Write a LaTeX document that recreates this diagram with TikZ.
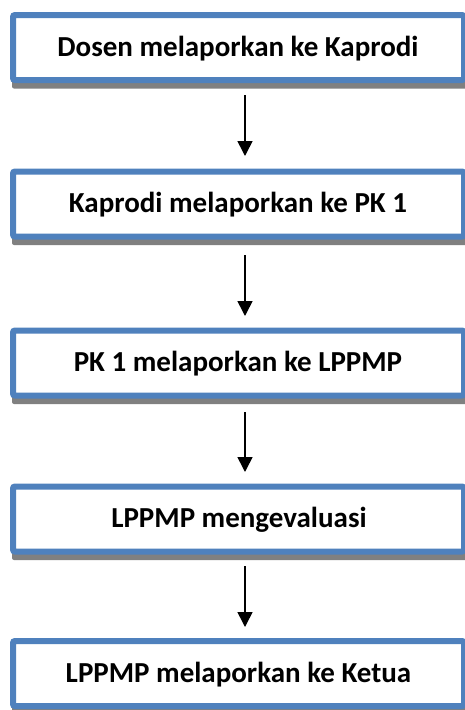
\documentclass[tikz,border=0pt]{standalone}
\usepackage{fontspec}
\setmainfont{Carlito}
\usetikzlibrary{arrows.meta}
\definecolor{boxblue}{HTML}{4F81BD}
\definecolor{shadowgray}{HTML}{808080}
\tikzset{
  flowbox/.style={draw=boxblue, line width=6pt, fill=white, rounded corners=2pt,
    minimum width=451pt, minimum height=65pt, inner sep=0pt},
  boxtext/.style={anchor=base, inner sep=0pt, font=\fontsize{29}{34}\selectfont\bfseries},
  boxshadow/.style={fill=shadowgray, rounded corners=2pt},
  flowarrow/.style={line width=1.6pt, -{Triangle[width=15pt,length=15pt]}}
}
\begin{document}
\begin{tikzpicture}[x=1pt,y=-1pt]
\useasboundingbox (0,0) rectangle (465,710);
\begin{scope}
\clip (0,0) rectangle (465,710);
% shadows
\foreach \cy in {47.5,204,363,519,673.5}{
  \fill[boxshadow] (12,\cy-33) rectangle (471,\cy+41);
}
\node[flowbox] (b1) at (238.5,47.5) {};
\node[flowbox] (b2) at (238.5,204) {};
\node[flowbox] (b3) at (238.5,363) {};
\node[flowbox] (b4) at (238.5,519) {};
\node[flowbox] (b5) at (238.5,673.5) {};
\end{scope}
\node[boxtext] (t1) at (238,56.5) {Dosen melaporkan ke Kaprodi};
\node[boxtext] (t2) at (238,212.5) {Kaprodi melaporkan ke PK 1};
\node[boxtext] (t3) at (238,371.5) {PK 1 melaporkan ke LPPMP};
\node[boxtext] (t4) at (239,527.5) {LPPMP mengevaluasi};
\node[boxtext] (t5) at (238.5,682.3) {LPPMP melaporkan ke Ketua};
\coordinate (a1s) at (245,95);  \coordinate (a1e) at (245,156);
\coordinate (a2s) at (245,255); \coordinate (a2e) at (245,316);
\coordinate (a3s) at (245,412); \coordinate (a3e) at (245,472);
\coordinate (a4s) at (245,566); \coordinate (a4e) at (245,627);
\draw[flowarrow] (a1s) -- (a1e);
\draw[flowarrow] (a2s) -- (a2e);
\draw[flowarrow] (a3s) -- (a3e);
\draw[flowarrow] (a4s) -- (a4e);
\end{tikzpicture}
\end{document}
